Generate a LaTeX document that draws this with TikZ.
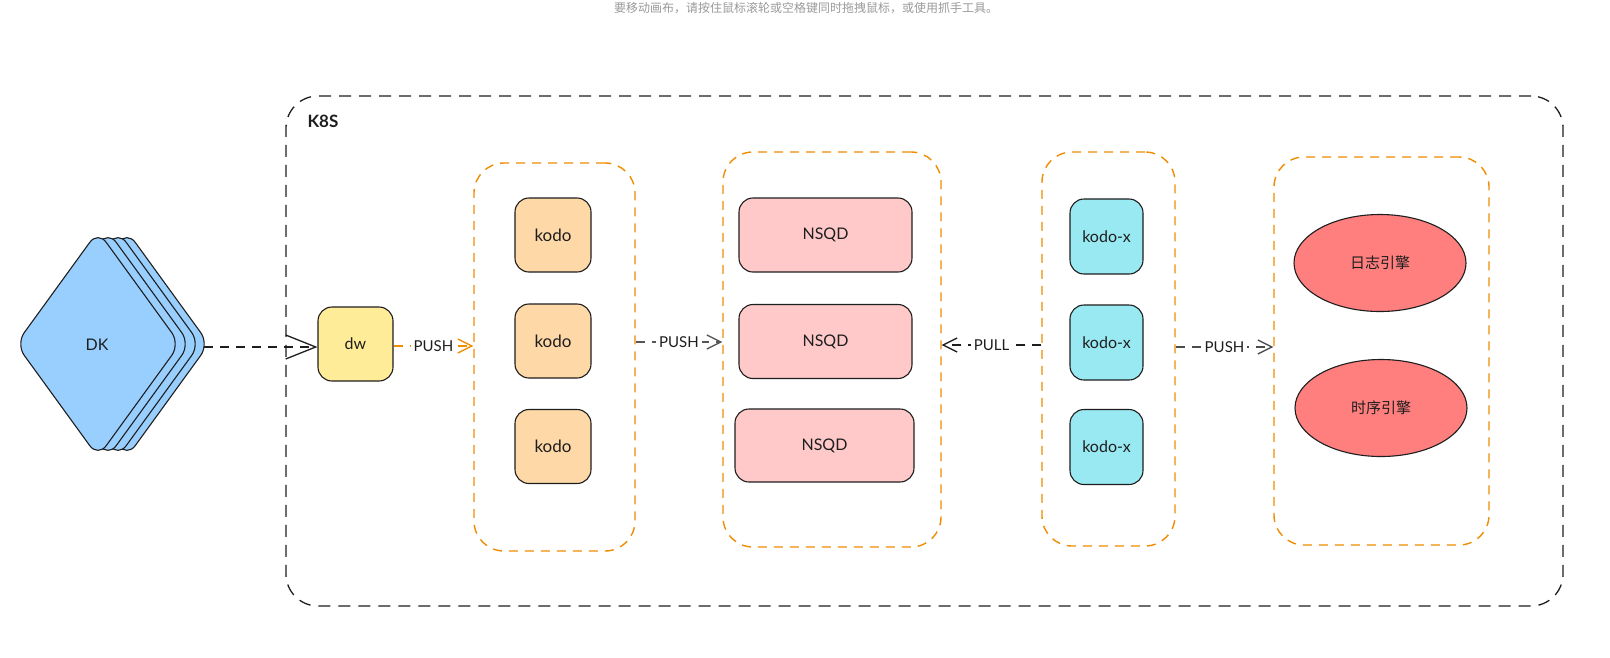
\documentclass[tikz,border=0pt]{standalone}
\usepackage{fontspec}
\setmainfont{Lato}
\newfontfamily\cjk{Noto Sans CJK SC}
\usetikzlibrary{arrows.meta,shapes.geometric}
\definecolor{ink}{HTML}{1E1E1E}
\definecolor{orng}{HTML}{F08C00}
\definecolor{dkfill}{HTML}{99CFFF}
\definecolor{dwfill}{HTML}{FFEC99}
\definecolor{kodofill}{HTML}{FFD8A8}
\definecolor{nsqdfill}{HTML}{FFC9C9}
\definecolor{kxfill}{HTML}{99E9F2}
\definecolor{engfill}{HTML}{FF7F7F}
\definecolor{hint}{HTML}{9A9A9A}
\tikzset{
  lbl/.style={font=\fontsize{16}{16}\selectfont, text=ink},
  box/.style={draw=ink, line width=1.1pt, rounded corners=14pt, inner sep=0pt, lbl},
  col/.style={draw=orng, line width=1.4pt, dash pattern=on 9pt off 7pt, rounded corners=30pt, inner sep=0pt},
  k8sbox/.style={draw=ink, line width=1.3pt, dash pattern=on 12pt off 8pt, rounded corners=32pt, inner sep=0pt},
  eng/.style={ellipse, draw=ink, line width=1.1pt, fill=engfill, inner sep=0pt, font=\cjk\fontsize{15}{15}\selectfont, text=ink},
  conn/.style={line width=1.2pt, dash pattern=on 9pt off 7pt},
  headS/.style={-{Straight Barb[length=14pt,width=14pt,line width=1.3pt]}},
  arrlbl/.style={midway, fill=white, inner sep=3pt, text=ink, font=\fontsize{15}{15}\selectfont},
}
\begin{document}
\begin{tikzpicture}[x=1pt,y=-1pt]
\useasboundingbox[fill=white] (0,0) rectangle (1610,657);
% top hint text
\node[font=\cjk\fontsize{12}{12}\selectfont, text=hint] (hinttext) at (806,8.5) {要移动画布，请按住鼠标滚轮或空格键同时拖拽鼠标，或使用抓手工具。};
% K8S frame
\node[k8sbox, minimum width=1277pt, minimum height=510pt] (k8s) at (924.5,351) {};
\node[font=\fontsize{17}{17}\selectfont\bfseries, text=ink, anchor=west] (k8slbl) at (304,121) {K8S};
% DK stacked diamonds
\foreach \dx in {29,20,10,0}{
  \draw[draw=ink, line width=1.1pt, fill=dkfill, rounded corners=14pt]
    ({16+\dx},344) -- ({98+\dx},231) -- ({180+\dx},344) -- ({98+\dx},457) -- cycle;
}
\node[lbl] (dk) at (97,345) {DK};
\coordinate (dkR) at (204,347);
% dw
\node[box, fill=dwfill, minimum width=75pt, minimum height=74pt] (dw) at (355.5,344) {dw};
% column 1
\node[col, minimum width=161pt, minimum height=388pt] (c1) at (554.5,357) {};
\node[box, fill=kodofill, minimum width=76pt, minimum height=74pt, font=\fontsize{17}{17}\selectfont] (k1) at (553,235) {kodo};
\node[box, fill=kodofill, minimum width=76pt, minimum height=74pt, font=\fontsize{17}{17}\selectfont] (k2) at (553,341) {kodo};
\node[box, fill=kodofill, minimum width=76pt, minimum height=74pt, font=\fontsize{17}{17}\selectfont] (k3) at (553,446.5) {kodo};
% column 2
\node[col, minimum width=218pt, minimum height=395pt] (c2) at (832,349.5) {};
\node[box, fill=nsqdfill, minimum width=173pt, minimum height=74pt] (n1) at (825.5,235) {NSQD};
\node[box, fill=nsqdfill, minimum width=173pt, minimum height=74pt] (n2) at (825.5,341.5) {NSQD};
\node[box, fill=nsqdfill, minimum width=179pt, minimum height=73pt] (n3) at (824.5,445.5) {NSQD};
% column 3
\node[col, minimum width=133pt, minimum height=394pt] (c3) at (1108.5,349) {};
\node[box, fill=kxfill, minimum width=73pt, minimum height=75pt] (x1) at (1106.5,236.5) {kodo-x};
\node[box, fill=kxfill, minimum width=73pt, minimum height=75pt] (x2) at (1106.5,342.5) {kodo-x};
\node[box, fill=kxfill, minimum width=73pt, minimum height=75pt] (x3) at (1106.5,447) {kodo-x};
% column 4
\node[col, minimum width=215pt, minimum height=388pt] (c4) at (1381.5,351) {};
\node[eng, minimum width=172pt, minimum height=97pt] (e1) at (1380,263) {日志引擎};
\node[eng, minimum width=172pt, minimum height=97pt] (e2) at (1381,408) {时序引擎};
% connectors
\draw[conn, draw=ink, -{Straight Barb[length=30pt,width=24pt,line width=1.3pt]}] (dkR) -- (dw.west |- dkR);
\draw[conn, draw=orng, headS] (dw.east |- 0,346) -- node[arrlbl] {PUSH} (c1.west |- 0,346);
\draw[conn, draw=ink!75, headS] (c1.east |- 0,342) -- node[arrlbl] {PUSH} (c2.west |- 0,342);
\draw[conn, draw=ink, headS] (c3.west |- 0,345) -- node[arrlbl] {PULL} (c2.east |- 0,345);
\draw[conn, draw=ink!80, headS] (c3.east |- 0,347) -- node[arrlbl] {PUSH} (c4.west |- 0,347);
\end{tikzpicture}
\end{document}
